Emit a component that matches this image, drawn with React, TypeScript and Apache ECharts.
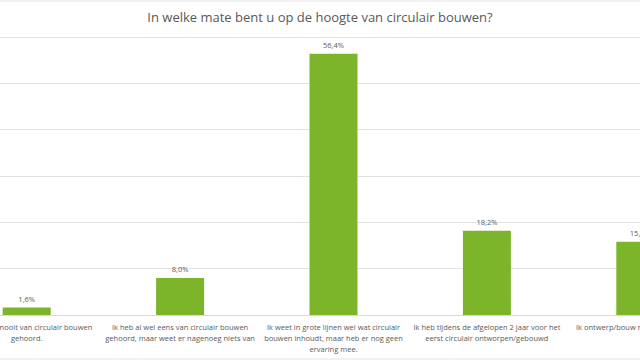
import React, { useEffect, useRef } from "react";
import * as echarts from "echarts";

const title = "In welke mate bent u op de hoogte van circulair bouwen?";
const categories = [
  "Ik heb nog nooit van circulair bouwen\ngehoord.",
  "Ik heb al wel eens van circulair bouwen\ngehoord, maar weet er nagenoeg niets van",
  "Ik weet in grote lijnen wel wat circulair\nbouwen inhoudt, maar heb er nog geen\nervaring mee.",
  "Ik heb tijdens de afgelopen 2 jaar voor het\neerst circulair ontworpen/gebouwd",
  "Ik ontwerp/bouw regelmatig circulair",
];
const values = [1.6, 8.0, 56.4, 18.2, 15.8];

const OFFSET = 50;
const CHART_W = 767;

export default function App() {
  const ref = useRef<HTMLDivElement>(null);
  useEffect(() => {
    document.body.style.margin = "0";
    const chart = echarts.init(ref.current!, null, { renderer: "svg" });
    const font = "Open Sans";
    chart.setOption({
      animation: false,
      backgroundColor: "#ffffff",
      grid: { left: 0, right: 0, top: 37, bottom: 45 },
      xAxis: {
        type: "category",
        data: categories,
        axisTick: { show: false },
        axisLine: { lineStyle: { color: "#d9d9d9" } },
        axisLabel: {
          interval: 0,
          fontFamily: font,
          fontSize: 7.5,
          lineHeight: 11,
          color: "#595959",
          margin: 6,
        },
      },
      yAxis: {
        type: "value",
        min: 0,
        max: 60,
        interval: 10,
        axisLabel: { show: false },
        axisLine: { show: false },
        axisTick: { show: false },
        splitLine: { lineStyle: { color: "#e3e3e3" } },
      },
      series: [
        {
          type: "bar",
          data: values,
          barWidth: 48,
          itemStyle: { color: "#7cb52a" },
          label: {
            show: true,
            position: "top",
            distance: 5,
            fontFamily: font,
            fontSize: 7.5,
            color: "#595959",
            formatter: (p: any) => p.value.toFixed(1).replace(".", ",") + "%",
          },
        },
      ],
      graphic: [
        {
          type: "text",
          x: OFFSET + 320,
          y: 17,
          style: {
            text: title,
            fontFamily: font,
            fontSize: 13,
            fill: "#595959",
            align: "center",
            verticalAlign: "middle",
          },
        },
        { type: "line", shape: { x1: 0, y1: 1, x2: CHART_W, y2: 1 }, style: { stroke: "#e3e3e3", lineWidth: 1 } },
        { type: "line", shape: { x1: 0, y1: 359, x2: CHART_W, y2: 359 }, style: { stroke: "#e3e3e3", lineWidth: 1 } },
      ],
    });
    return () => chart.dispose();
  }, []);
  return (
    <div style={{ width: 640, height: 360, position: "absolute", left: 0, top: 0, overflow: "hidden" }}>
      <div ref={ref} style={{ width: CHART_W, height: 360, position: "absolute", left: -OFFSET, top: 0 }} />
    </div>
  );
}
